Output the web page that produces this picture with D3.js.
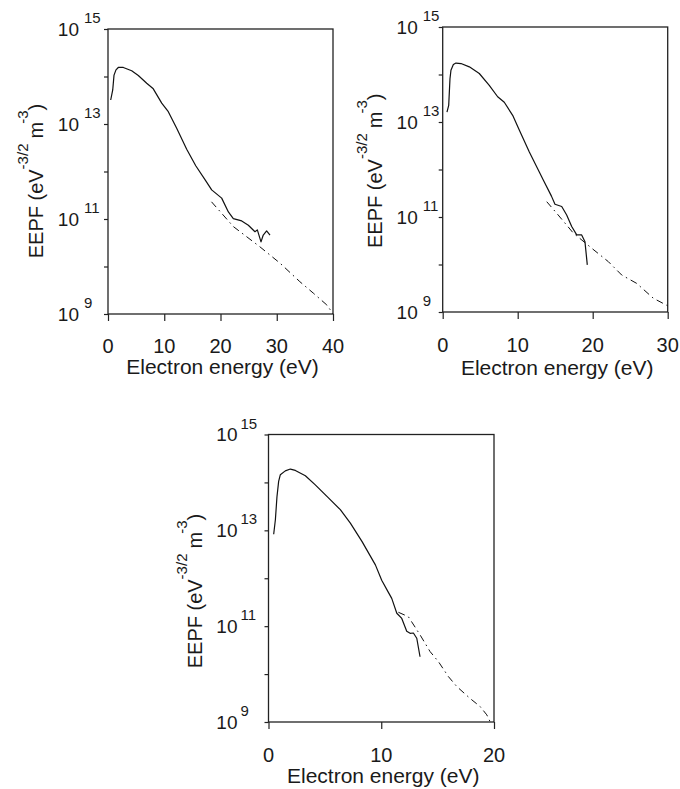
<html>
<head>
  <title>EEPF</title>
  <script src="https://cdn.jsdelivr.net/npm/d3@7"></script>
  <style>
    body { margin: 0; background: #fff; }
    svg text { font-family: Arial, "Liberation Sans", sans-serif; fill: #1a1a1a; }
  </style>
</head>
<body>
<div id="chart"></div>
<script type="text/javascript">

// panel (a): 0-40 eV
var energyA = [0.48, 0.84, 1.07, 1.42, 1.83, 2.72, 4.21, 5.39, 6.88, 8.05, 9.55, 10.72, 12.21, 13.99, 15.6, 17.3,
  18.43, 20.21, 21.4, 22.28, 23.77, 24.95, 26.13, 26.55, 27.2, 27.6, 28.2, 28.8];
var eepfA = [3.2e13, 5.2e13, 1.07e14, 1.38e14, 1.55e14, 1.55e14, 1.32e14, 1.05e14, 7.2e13, 5.5e13, 2.75e13, 1.82e13,
  8.1e12, 2.95e12, 1.32e12, 6.6e11, 4.1e11, 2.75e11, 1.41e11, 1.02e11, 9.1e10, 7.4e10, 5.4e10, 5.9e10, 3.3e10,
  4.6e10, 5.6e10, 4.6e10];
var fitEnergyA = [18.4, 22.3, 27.0, 30.6, 34.1, 36.5, 38.9, 40];
var fitEepfA = [2.3e11, 6.9e10, 2.6e10, 1.17e10, 4.8e9, 2.75e9, 1.55e9, 1.02e9];

// panel (b): 0-30 eV
var energyB = [0.57, 0.8, 0.97, 1.1, 1.42, 1.77, 2.44, 3.55, 4.88, 6.21, 7.33, 8.21, 9.33, 10.21, 11.55, 12.88,
  13.41, 14.5, 14.97, 15.87, 16.53, 17.2, 17.87, 18.53, 18.97, 19.28];
var eepfB = [1.62e13, 2.24e13, 8.1e13, 1.23e14, 1.62e14, 1.74e14, 1.7e14, 1.45e14, 1.05e14, 5.9e13, 3.4e13, 2.6e13,
  1.38e13, 6.8e12, 2.34e12, 8.9e11, 6.0e11, 2.75e11, 1.86e11, 1.66e11, 1.1e11, 6.3e10, 4.2e10, 4.2e10, 3.0e10, 9.8e9];
var fitEnergyB = [13.87, 15.2, 17.41, 19.87, 22.08, 23.87, 25.87, 28.08, 30];
var fitEepfB = [2.1e11, 1.2e11, 4.6e10, 2.2e10, 1.15e10, 6.0e9, 4.0e9, 1.95e9, 1.35e9];

// panel (c): 0-20 eV
var energyC = [0.46, 0.61, 0.75, 0.9, 1.05, 1.49, 1.94, 2.38, 3.27, 4.15, 5.34, 6.37, 7.26, 8.3, 9.48, 10.04,
  10.67, 10.93, 11.38, 11.82, 12.26, 12.56, 12.85, 13.15, 13.44];
var eepfC = [8.3e12, 1.66e13, 5.0e13, 1.05e14, 1.45e14, 1.74e14, 1.9e14, 1.78e14, 1.38e14, 8.9e13, 4.7e13, 2.7e13,
  1.41e13, 5.8e12, 1.9e12, 9.1e11, 4.9e11, 3.8e11, 1.86e11, 1.45e11, 7.8e10, 7.1e10, 7.2e10, 5.6e10, 2.3e10];
var fitEnergyC = [11.52, 12.4, 13.44, 14.33, 15.07, 15.95, 16.7, 17.88, 18.77, 19.36, 19.65];
var fitEepfC = [1.95e11, 1.58e11, 6.6e10, 2.95e10, 1.82e10, 8.9e9, 5.5e9, 3.1e9, 2.1e9, 1.41e9, 1.02e9];

var yDecades = [1e9, 1e10, 1e11, 1e12, 1e13, 1e14, 1e15];
var yLabelExps = [9, 11, 13, 15];
var xTicksA = [0, 10, 20, 30, 40];
var xTicksB = [0, 10, 20, 30];
var xTicksC = [0, 10, 20];

var xTitle = "Electron energy (eV)";

var svg = d3.select("#chart").append("svg")
  .attr("width", 680)
  .attr("height", 789);

svg.append("rect").attr("width", 680).attr("height", 789).attr("fill", "#fff");

function drawPanel(p) {
  var g = svg.append("g").attr("transform", "translate(" + p.left + "," + p.top + ")");

  var x = d3.scaleLinear().domain([0, p.xMax]).range([0, p.w]);
  var y = d3.scaleLog().domain([1e9, 1e15]).range([p.h, 0]);

  // ticks only, labels done by hand below
  var yAxis = g.append("g")
    .call(d3.axisLeft(y).tickValues(yDecades).tickSize(4).tickFormat(""));
  var xAxis = g.append("g")
    .attr("transform", "translate(0," + p.h + ")")
    .call(d3.axisBottom(x).tickValues(p.xTicks).tickSize(7).tickFormat(""));
  [yAxis, xAxis].forEach(function(a) {
    a.select(".domain").remove();
    a.selectAll("line").attr("stroke", "#222").attr("stroke-width", 1.2);
  });

  g.append("rect")
    .attr("width", p.w)
    .attr("height", p.h)
    .attr("fill", "none")
    .attr("stroke", "#222")
    .attr("stroke-width", 1.3);

  // y tick labels 10^n
  var lab = g.selectAll(".ylab")
    .data(yLabelExps)
    .enter()
    .append("g")
    .attr("class", "ylab");
  lab.append("text")
    .attr("x", -p.tenOff)
    .attr("y", function(d) { return y(Math.pow(10, d)) + 6.5; })
    .attr("text-anchor", "end")
    .attr("font-size", "19px")
    .text("10");
  lab.append("text")
    .attr("x", -p.expOff)
    .attr("y", function(d) { return y(Math.pow(10, d)) - 6; })
    .attr("font-size", "15px")
    .text(function(d) { return d; });

  // x tick labels
  g.selectAll(".xlab")
    .data(p.xTicks)
    .enter()
    .append("text")
    .attr("class", "xlab")
    .attr("x", function(d) { return x(d); })
    .attr("y", p.h + p.xLabOff)
    .attr("text-anchor", "middle")
    .attr("font-size", "20px")
    .text(function(d) { return d; });

  g.append("text")
    .attr("x", p.w / 2 + 2)
    .attr("y", p.h + p.xTitleOff)
    .attr("text-anchor", "middle")
    .attr("font-size", "21px")
    .text(xTitle);

  // y title with superscripts
  var yt = g.append("text")
    .attr("transform", "translate(" + (-p.yTitleX) + "," + p.yTitleY + ") rotate(-90)")
    .attr("font-size", "20px");
  yt.append("tspan").text("EEPF (eV");
  yt.append("tspan").attr("dy", -15).attr("font-size", "15px").text("-3/2");
  yt.append("tspan").attr("dy", 15).attr("dx", 5).text("m");
  yt.append("tspan").attr("dy", -15).attr("dx", -2).attr("font-size", "15px").text("-3");
  yt.append("tspan").attr("dy", 15).text(")");

  var line = d3.line()
    .x(function(d) { return x(d[0]); })
    .y(function(d) { return y(d[1]); });

  g.append("path")
    .datum(d3.zip(p.fitEnergy, p.fitEepf))
    .attr("d", line)
    .attr("fill", "none")
    .attr("stroke", "#111")
    .attr("stroke-width", 1)
    .attr("stroke-dasharray", "7,4,1.5,4");

  g.append("path")
    .datum(d3.zip(p.energy, p.eepf))
    .attr("d", line)
    .attr("fill", "none")
    .attr("stroke", "#111")
    .attr("stroke-width", 1.2)
    .attr("stroke-linejoin", "round");
}

drawPanel({ left: 108, top: 29, w: 225, h: 285, xMax: 40, xTicks: xTicksA,
  energy: energyA, eepf: eepfA, fitEnergy: fitEnergyA, fitEepf: fitEepfA,
  tenOff: 29, expOff: 24, xLabOff: 38.7, xTitleOff: 60, yTitleX: 64.7, yTitleY: 229.3 });

drawPanel({ left: 442.7, top: 27, w: 225, h: 285, xMax: 30, xTicks: xTicksB,
  energy: energyB, eepf: eepfB, fitEnergy: fitEnergyB, fitEepf: fitEepfB,
  tenOff: 25, expOff: 20, xLabOff: 39.7, xTitleOff: 63, yTitleX: 61, yTitleY: 221 });

drawPanel({ left: 268.5, top: 434.5, w: 225.5, h: 287.5, xMax: 20, xTicks: xTicksC,
  energy: energyC, eepf: eepfC, fitEnergy: fitEnergyC, fitEepf: fitEepfC,
  tenOff: 31, expOff: 28, xLabOff: 39.7, xTitleOff: 61, yTitleX: 66.8, yTitleY: 233.8 });

</script>
</body>
</html>
